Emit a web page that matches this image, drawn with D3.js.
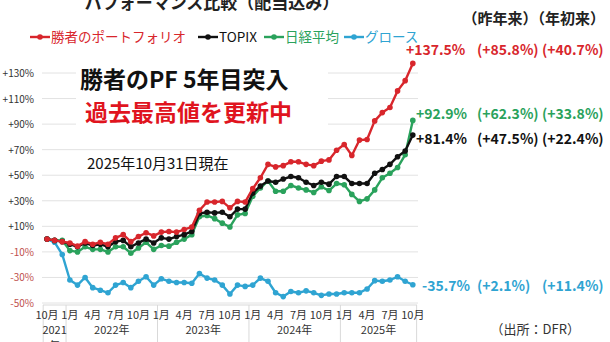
<!DOCTYPE html>
<html>
<head>
<meta charset="utf-8">
<script src="https://cdn.jsdelivr.net/npm/d3@7"></script>
<style>
    body { margin: 0; background: #fff; }
    svg { display: block; font-family: "Noto Sans CJK JP", "Noto Sans", sans-serif; }
</style>
</head>
<body>
<svg id="chart" width="610" height="342"></svg>
<script>
    // monthly, Oct 2021 = 0 (% return incl. dividends)
    var winners = [0, -1, -2, -3, -5.5, -2, -4, -2.5, -4, 1, 3.5, -2, 2, 5, 2.5, 5.5, 6, 5.5, 7.5, 9.5,
        22.5, 29, 29, 29.5, 24.5, 29.5, 29, 39.5, 48, 58.5, 56.5, 57.5, 60.5, 60.5, 58.5, 57.5, 61, 62, 69.5, 74,
        65.5, 77.5, 78, 92.5, 99, 103, 116, 124, 137.5];
    var topix = [0, -1, -2, -4, -6, -3, -5, -4, -6, -2, -1, -6, -3, 0, -3, 1, 0, 2, 3.5, 6,
        20, 21, 20.5, 21, 17.5, 23.5, 23.5, 36, 41.5, 45.5, 44.5, 47, 49, 48, 44.5, 42, 44.5, 43, 49, 49,
        43.5, 43.5, 43.5, 51.5, 54.5, 58.5, 64.5, 69, 81.4];
    var nikkei = [0, -1, -1, -9, -10, -6, -8, -8, -10, -6, -6, -11, -7, -2.5, -8, -5, -5.5, -2.5, 0, 3.5,
        17.5, 18.5, 16, 12.5, 9.5, 19, 20, 33.5, 40, 45.5, 37.5, 37.5, 42, 40, 38.5, 36.5, 41, 38, 43.5, 42.5,
        35, 29.5, 31.5, 38.5, 48, 51.5, 56, 66, 92.9];
    var growth = [0, -2.5, -12, -32, -36, -30, -38, -40, -42, -36, -34, -38, -33, -29.5, -36, -31, -33, -34, -34, -34.5,
        -27, -30.5, -32, -36, -43, -36, -37, -36, -30.5, -33, -42, -45, -41, -42, -40.5, -42, -44, -43, -43, -42,
        -42, -42, -39, -32.5, -33, -32, -29.5, -33, -35.7];

    var seriesNames = ["勝者のポートフォリオ", "TOPIX", "日経平均", "グロース"];
    var seriesColors = ["#d8262c", "#111111", "#2aa25c", "#2fa4d2"];
    var yTicks = [-50, -30, -10, 10, 30, 50, 70, 90, 110, 130];
    var monthTicks = ["10月", "1月", "4月", "7月", "10月", "1月", "4月", "7月", "10月", "1月", "4月", "7月", "10月", "1月", "4月", "7月", "10月"];
    var yearGroups = [
        { label: "2021", from: 0, to: 2 },
        { label: "2022年", from: 3, to: 14 },
        { label: "2023年", from: 15, to: 26 },
        { label: "2024年", from: 27, to: 38 },
        { label: "2025年", from: 39, to: 48 }
    ];
    // total, since last year, year to date
    var endLabels = [
        ["+137.5%", "(+85.8%)", "(+40.7%)"],
        ["+81.4%", "(+47.5%)", "(+22.4%)"],
        ["+92.9%", "(+62.3%)", "(+33.8%)"],
        ["-35.7%", "(+2.1%)", "(+11.4%)"]
    ];

    var svg = d3.select("#chart");
    var x = d3.scaleLinear().domain([0, 48]).range([47, 412.8]);
    var y = d3.scaleLinear().domain([-50, 130]).range([303, 73]);

    // grid
    svg.append("g").selectAll("line").data(yTicks).enter().append("line")
        .attr("x1", 42).attr("x2", 418)
        .attr("y1", function (d) { return y(d); })
        .attr("y2", function (d) { return y(d); })
        .attr("stroke", "#e2e2e2").attr("stroke-width", 1);

    svg.append("g").selectAll("text").data(yTicks).enter().append("text")
        .attr("x", 34).attr("y", function (d) { return y(d) + 4; })
        .attr("text-anchor", "end")
        .attr("font-size", 10)
        .attr("fill", function (d) { return d < 0 ? "#c0504d" : "#333"; })
        .text(function (d) { return (d > 0 ? "+" : "") + d + "%"; });

    // category axis box
    var axisG = svg.append("g");
    axisG.append("line").attr("x1", 43).attr("x2", 417).attr("y1", 305).attr("y2", 305)
        .attr("stroke", "#d9d9d9");
    var seps = [-0.5].concat(yearGroups.map(function (g) { return g.to + 0.5; }));
    axisG.selectAll("line.sep").data(seps).enter().append("line")
        .attr("class", "sep")
        .attr("x1", function (d) { return x(d); }).attr("x2", function (d) { return x(d); })
        .attr("y1", 305).attr("y2", 342)
        .attr("stroke", "#d9d9d9");
    axisG.selectAll("text.m").data(monthTicks).enter().append("text")
        .attr("class", "m")
        .attr("x", function (d, i) { return x(i * 3); })
        .attr("y", 319)
        .attr("text-anchor", "middle")
        .attr("font-size", 11)
        .attr("fill", "#333")
        .text(function (d) { return d; });
    axisG.selectAll("text.yr").data(yearGroups).enter().append("text")
        .attr("class", "yr")
        .attr("x", function (g) { return (x(g.from - 0.5) + x(g.to + 0.5)) / 2; })
        .attr("y", 334)
        .attr("text-anchor", "middle")
        .attr("font-size", 11)
        .attr("fill", "#333")
        .text(function (g) { return g.label; });
    // first group label wraps, its second line falls off the picture
    axisG.append("text")
        .attr("x", (x(-0.5) + x(2.5)) / 2).attr("y", 350)
        .attr("text-anchor", "middle").attr("font-size", 11).attr("fill", "#333")
        .text("年");

    // white box behind headline
    svg.append("rect").attr("x", 76).attr("y", 60).attr("width", 252).attr("height", 68).attr("fill", "#fff");

    // series
    var allSeries = [winners, topix, nikkei, growth];
    var line = d3.line()
        .x(function (d, i) { return x(i); })
        .y(function (d) { return y(d); });
    var drawOrder = [3, 2, 1, 0];
    drawOrder.forEach(function (k) {
        var g = svg.append("g");
        g.append("path").datum(allSeries[k])
            .attr("d", line)
            .attr("fill", "none")
            .attr("stroke", seriesColors[k])
            .attr("stroke-width", 2.4)
            .attr("stroke-linejoin", "round");
        g.selectAll("circle").data(allSeries[k]).enter().append("circle")
            .attr("cx", function (d, i) { return x(i); })
            .attr("cy", function (d) { return y(d); })
            .attr("r", 2.8)
            .attr("fill", seriesColors[k]);
    });

    // end labels
    var endPos = [
        { x: 406, y: 55 },
        { x: 416, y: 144 },
        { x: 416, y: 119 },
        { x: 422, y: 291 }
    ];
    var colX = [0, 477, 542];
    endLabels.forEach(function (row, k) {
        row.forEach(function (t, c) {
            svg.append("text")
                .attr("x", c == 0 ? endPos[k].x : colX[c])
                .attr("y", endPos[k].y)
                .attr("font-size", 14)
                .attr("font-weight", 700)
                .attr("fill", seriesColors[k])
                .text(t);
        });
    });

    // title and headers
    svg.append("text").attr("x", 212).attr("y", 9).attr("text-anchor", "middle")
        .attr("font-size", 17).attr("font-weight", 700).attr("fill", "#222")
        .text("パフォーマンス比較（配当込み）");
    svg.append("text").attr("x", 605).attr("y", 24).attr("text-anchor", "end")
        .attr("font-size", 15).attr("font-weight", 700).attr("fill", "#222")
        .text("（昨年来）（年初来）");

    // legend
    var legendX = [30, 198, 264, 344];
    seriesNames.forEach(function (name, k) {
        var lg = svg.append("g").attr("transform", "translate(" + legendX[k] + ",37)");
        lg.append("line").attr("x1", 0).attr("x2", 20).attr("y1", 0).attr("y2", 0)
            .attr("stroke", seriesColors[k]).attr("stroke-width", 2.4);
        lg.append("circle").attr("cx", 10).attr("cy", 0).attr("r", 2.8).attr("fill", seriesColors[k]);
        lg.append("text").attr("x", 21).attr("y", 5)
            .attr("font-size", 13.5).attr("fill", seriesColors[k])
            .text(name);
    });

    // headline notes
    svg.append("text").attr("x", 80).attr("y", 88)
        .attr("font-size", 23).attr("font-weight", 700).attr("fill", "#111")
        .text("勝者のPF 5年目突入");
    svg.append("text").attr("x", 85).attr("y", 121)
        .attr("font-size", 23).attr("font-weight", 700).attr("fill", "#e0141e")
        .text("過去最高値を更新中");
    svg.append("text").attr("x", 87).attr("y", 169)
        .attr("font-size", 15).attr("fill", "#111")
        .text("2025年10月31日現在");

    svg.append("text").attr("x", 580).attr("y", 334).attr("text-anchor", "end")
        .attr("font-size", 13).attr("fill", "#333")
        .text("（出所：DFR）");
</script>
</body>
</html>
